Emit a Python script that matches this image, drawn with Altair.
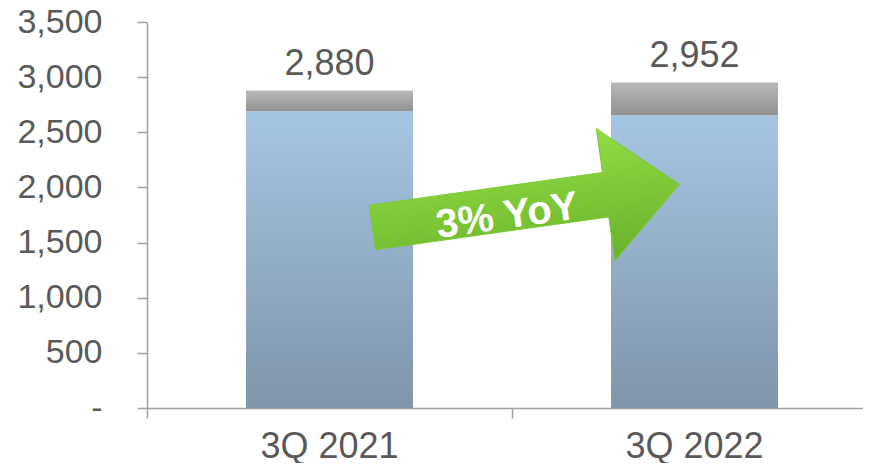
import altair as alt
import pandas as pd

categories = ["3Q 2021", "3Q 2022"]
core_values = [2690, 2655]      # lower (blue) segment
totals = [2880, 2952]           # bar totals (labels)
total_labels = ["2,880", "2,952"]

arrow_text = "3% YoY"
arrow_cat = "3Q 2022"
arrow_y = 1815
arrow_text_y = 1745

df = pd.DataFrame({"cat": categories, "core": core_values, "total": totals, "label": total_labels})
ann = pd.DataFrame({"cat": [arrow_cat], "y": [arrow_y], "ty": [arrow_text_y], "text": [arrow_text]})

FONT = "Liberation Sans"
GREY_TXT = "#595959"
AX = "#A0A0A0"

xscale = alt.Scale(domain=categories, range=[0, 730], paddingInner=0, paddingOuter=0)
yscale = alt.Scale(domain=[0, 3500])

def grad(c1, c2):
    return alt.Gradient(
        gradient="linear",
        stops=[alt.GradientStop(color=c1, offset=0), alt.GradientStop(color=c2, offset=1)],
        x1=0, x2=0, y1=0, y2=1,
    )

blue = alt.Chart(df).mark_bar(width=167, color=grad("#A5C6E3", "#7F95AB")).encode(
    x=alt.X("cat:N", scale=xscale, sort=categories, title=None,
            axis=alt.Axis(labelAngle=0, bandPosition=0, tickSize=10, labelPadding=11,
                          labelFontSize=36, labelFont=FONT, labelColor=GREY_TXT,
                          domainColor=AX, tickColor=AX, domainWidth=1.5, tickWidth=1.5)),
    y=alt.Y("core:Q", scale=yscale, title=None,
            axis=alt.Axis(values=[0, 500, 1000, 1500, 2000, 2500, 3000, 3500],
                          labelExpr="datum.value == 0 ? '-' : format(datum.value, ',')",
                          tickSize=10, labelPadding=35, labelFontSize=34, labelFont=FONT,
                          labelColor=GREY_TXT, domainColor=AX, tickColor=AX,
                          domainWidth=1.5, tickWidth=1.5, grid=False)),
)

grey = alt.Chart(df).mark_bar(width=167, color=grad("#B9B9B9", "#929292")).encode(
    x=alt.X("cat:N", scale=xscale, sort=categories),
    y=alt.Y("core:Q", scale=yscale),
    y2="total:Q",
)

labels = alt.Chart(df).mark_text(fontSize=36, font=FONT, color=GREY_TXT, dy=-15,
                                 baseline="alphabetic").encode(
    x=alt.X("cat:N", scale=xscale, sort=categories),
    y=alt.Y("total:Q", scale=yscale),
    text="label:N",
)

arrow_path = ("M -0.91 -0.145 L 0.61 -0.145 L 0.61 -0.43 L 1.09 0 L 0.61 0.43 "
              "L 0.61 0.145 L -0.91 0.145 Z")
arrow = alt.Chart(ann).mark_point(shape=arrow_path, size=96100, angle=352, filled=True,
                                  fill=grad("#92DD44", "#68B12B"), stroke="#7CC83A",
                                  strokeWidth=1, opacity=1).encode(
    x=alt.X("cat:N", scale=xscale, sort=categories, bandPosition=0),
    y=alt.Y("y:Q", scale=yscale),
)

arrow_label = alt.Chart(ann).mark_text(fontSize=40, font=FONT, fontWeight="bold", color="white",
                                       angle=352, dx=-5).encode(
    x=alt.X("cat:N", scale=xscale, sort=categories, bandPosition=0),
    y=alt.Y("ty:Q", scale=yscale),
    text="text:N",
)

chart = alt.layer(blue, grey, labels, arrow, arrow_label).properties(
    width=716, height=386,
    autosize=alt.AutoSizeParams(type="none"),
    padding={"left": 139, "top": 14, "right": 0, "bottom": 55},
).configure_view(stroke=None)

chart.save("out.html", embed_options={"renderer": "svg", "actions": False})
